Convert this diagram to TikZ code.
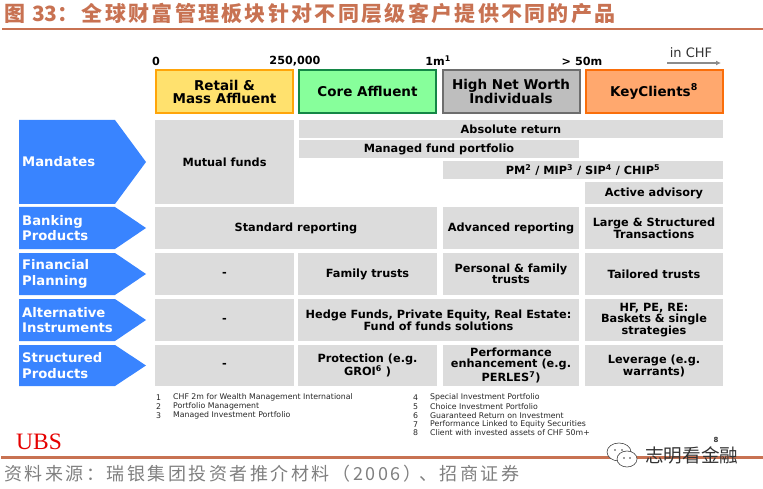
\documentclass[tikz,border=0pt]{standalone}
\usepackage{fontspec}
\usetikzlibrary{arrows.meta}
\setmainfont{DejaVu Sans}
\newfontfamily\cjk{Noto Sans CJK SC}
\newfontfamily\titlefont[LetterSpace=11]{Noto Sans CJK SC}
\newfontfamily\srcfont[LetterSpace=14]{Noto Sans CJK SC}
\newfontfamily\ubsfont{Liberation Serif}
\definecolor{rulec}{HTML}{C87252}
\definecolor{grayc}{HTML}{DCDCDC}
\definecolor{bluec}{HTML}{3984FF}
\tikzset{
  cellbox/.style={fill=grayc,inner sep=0pt,align=center,font=\fontsize{11.3}{11}\selectfont\bfseries,text=black},
  headbox/.style={line width=2pt,inner sep=0pt,align=center,minimum width=137pt,minimum height=43pt,font=\fontsize{13.5}{13}\selectfont\bfseries,text=black},
  axislabel/.style={inner sep=0pt,font=\fontsize{11.2}{12}\selectfont\bfseries,text=black},
  chevlabel/.style={inner sep=0pt,anchor=west,align=left,text=white,font=\fontsize{13.2}{15.5}\selectfont\bfseries},
  footnum/.style={inner sep=0pt,anchor=west,font=\fontsize{7.8}{9}\selectfont,text=black!85},
  ruleline/.style={draw=rulec,line width=2.2pt},
}
\newcommand{\cellat}[6]{\node[cellbox,minimum width={(#4-#2)*1pt},minimum height={(#5-#3)*1pt}] (#1) at ({(#2+#4)/2},{(#3+#5)/2}) {#6};}
\newcommand{\chev}[5]{\fill[bluec] (19,#2) -- (#4,#2) -- (146,{(#2+#3)/2}) -- (#4,#3) -- (19,#3) -- cycle;
  \node[chevlabel] (#1) at (22,{(#2+#3)/2}) {#5};}
\newcommand{\sups}[1]{\textsuperscript{#1}}
\begin{document}
\begin{tikzpicture}[x=1pt,y=-1pt]
\useasboundingbox (0,0) rectangle (763,489);
% title
\node[inner sep=0pt,anchor=west,text=rulec,font=\fontsize{21}{22}\titlefont\bfseries] (title) at (4,14) {图\hspace{7pt}{\cjk\bfseries 33}：\hspace{3pt}全球财富管理板块针对不同层级客户提供不同的产品};
\draw[ruleline] (2,29) -- (763,29);
% axis
\node[axislabel] (a0) at (156,61) {0};
\node[axislabel] (a1) at (295,61) {250,000};
\node[axislabel] (a2) at (438,61) {1m\sups{1}};
\node[axislabel] (a3) at (582,61) {> 50m};
\node[inner sep=0pt,font=\fontsize{13}{14}\selectfont,text=black!80] (chf) at (691,53) {in CHF};
\coordinate (chfa) at (667,63);
\coordinate (chfb) at (721,63);
\draw[draw=black!45,line width=1.3pt,-{Latex[length=5pt,width=5pt]}] (chfa) -- (chfb);
% headers
\node[headbox,fill={rgb,255:red,255;green,225;blue,110},draw={rgb,255:red,255;green,165;blue,10}] (h1) at (224.5,91.5) {Retail \&\\Mass Affluent};
\node[headbox,fill={rgb,255:red,135;green,255;blue,155},draw={rgb,255:red,20;green,135;blue,70}] (h2) at (367.5,91.5) {Core Affluent};
\node[headbox,fill={rgb,255:red,190;green,190;blue,190},draw={rgb,255:red,110;green,110;blue,110}] (h3) at (511,91.5) {High Net Worth\\Individuals};
\node[headbox,fill={rgb,255:red,255;green,168;blue,110},draw={rgb,255:red,250;green,110;blue,10}] (h4) at (654,91.5) {KeyClients\sups{8}};
% chevrons
\chev{m}{120}{204}{115}{Mandates}
\chev{b}{207}{249}{115}{Banking\\Products}
\chev{f}{253}{295}{115}{Financial\\Planning}
\chev{ai}{299}{341}{115}{Alternative\\Instruments}
\chev{s}{345}{386}{115}{Structured\\Products}
% mandates
\cellat{c1}{155}{120}{294}{204}{Mutual funds}
\cellat{c2}{299}{120}{723}{138}{Absolute return}
\cellat{c3}{299}{140}{579}{158}{Managed fund portfolio}
\cellat{c4}{443}{161}{723}{179}{PM\sups{2} / MIP\sups{3} / SIP\sups{4} / CHIP\sups{5}}
\cellat{c5}{585}{182}{723}{204}{Active advisory}
% banking
\cellat{c6}{155}{207}{437}{249}{Standard reporting}
\cellat{c7}{443}{207}{579}{249}{Advanced reporting}
\cellat{c8}{585}{207}{723}{249}{Large \& Structured\\Transactions}
% financial
\cellat{c9}{155}{253}{294}{295}{-}
\cellat{c10}{298}{253}{437}{295}{Family trusts}
\cellat{c11}{443}{253}{579}{295}{Personal \& family\\trusts}
\cellat{c12}{585}{253}{723}{295}{Tailored trusts}
% alternative
\cellat{c13}{155}{299}{294}{341}{-}
\cellat{c14}{298}{299}{579}{341}{Hedge Funds, Private Equity, Real Estate:\\Fund of funds solutions}
\cellat{c15}{585}{299}{723}{341}{HF, PE, RE:\\Baskets \& single\\strategies}
% structured
\cellat{c16}{155}{345}{294}{386}{-}
\cellat{c17}{298}{345}{437}{386}{Protection (e.g.\\GROI\sups{6} )}
\cellat{c18}{443}{345}{579}{386}{Performance\\enhancement (e.g.\\PERLES\sups{7})}
\cellat{c19}{585}{345}{723}{386}{Leverage (e.g.\\warrants)}
% footnotes
\node[footnum] (n1) at (156,397.5) {1}; \node[footnum] (t1) at (173,397.5) {CHF 2m for Wealth Management International};
\node[footnum] (n2) at (156,406.5) {2}; \node[footnum] (t2) at (173,406.5) {Portfolio Management};
\node[footnum] (n3) at (156,415.2) {3}; \node[footnum] (t3) at (173,415.2) {Managed Investment Portfolio};
\node[footnum] (n4) at (413,397.5) {4}; \node[footnum] (t4) at (430,397.5) {Special Investment Portfolio};
\node[footnum] (n5) at (413,406.5) {5}; \node[footnum] (t5) at (430,406.5) {Choice Investment Portfolio};
\node[footnum] (n6) at (413,415.2) {6}; \node[footnum] (t6) at (430,415.2) {Guaranteed Return on Investment};
\node[footnum] (n7) at (413,424.2) {7}; \node[footnum] (t7) at (430,424.2) {Performance Linked to Equity Securities};
\node[footnum] (n8) at (413,433) {8}; \node[footnum] (t8) at (430,433) {Client with invested assets of CHF 50m+};
\node[inner sep=0pt,font=\fontsize{7}{8}\selectfont\bfseries,text=black!80] (pg) at (716,440) {8};
% UBS
\node[inner sep=0pt,anchor=west,text=red!90!black,font=\fontsize{23.5}{25}\ubsfont] (ubs) at (16,442) {UBS};
\draw[ruleline] (1,457.5) -- (763,457.5);
% source
\node[inner sep=0pt,anchor=west,text=black!50,font=\fontsize{18}{20}\srcfont] (src) at (4,474) {资料来源：瑞银集团投资者推介材料（2006）\hspace{-2pt}、招商证券};
% watermark
\draw[black!75,fill=white,line width=.6pt] (619,452) ellipse (12pt and 9pt);
\draw[black!75,fill=white,line width=.6pt] (627,459) ellipse (10pt and 8pt);
\fill[black!75] (615,450) circle (.9pt) (622,450) circle (.9pt) (624,458) circle (.8pt) (630,458) circle (.8pt);
\node[inner sep=0pt,anchor=west,text=black!80,font=\fontsize{18.6}{20}\cjk] (wm) at (645,455) {志明看金融};
\end{tikzpicture}
\end{document}
